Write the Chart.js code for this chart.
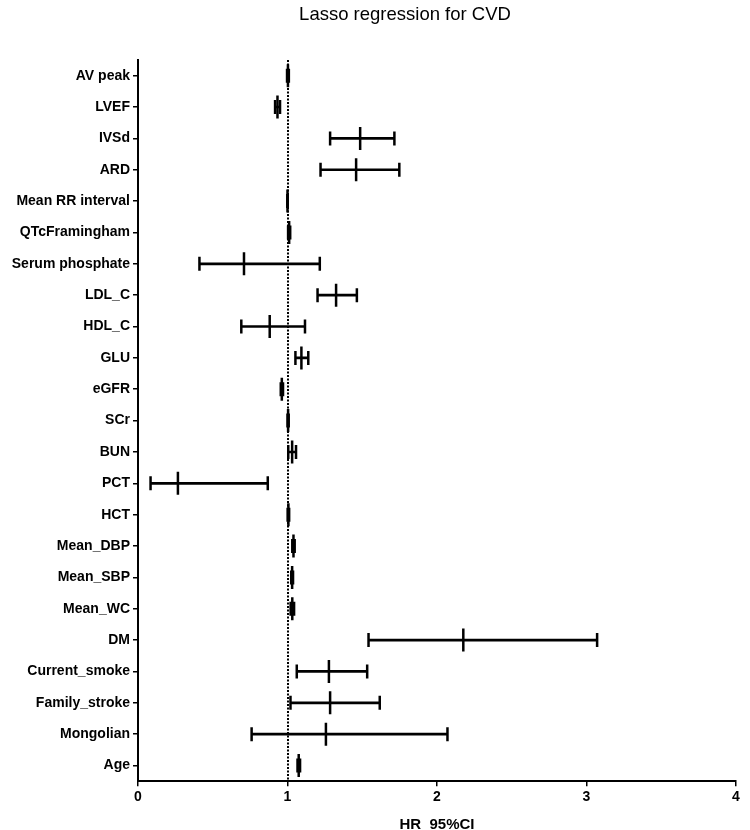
<!DOCTYPE html>
<html>
<head>
<meta charset="utf-8">
<script src="https://cdn.jsdelivr.net/npm/chart.js@4"></script>
<style>
  html, body { margin: 0; padding: 0; background: #fff; overflow: hidden; }
  canvas { display: block; }
</style>
</head>
<body>
<canvas id="chart" width="750" height="830"></canvas>
<script>
// variables, top to bottom as in the plot
const categories = ['AV peak', 'LVEF', 'IVSd', 'ARD', 'Mean RR interval', 'QTcFramingham',
  'Serum phosphate', 'LDL_C', 'HDL_C', 'GLU', 'eGFR', 'SCr', 'BUN', 'PCT', 'HCT',
  'Mean_DBP', 'Mean_SBP', 'Mean_WC', 'DM', 'Current_smoke', 'Family_stroke', 'Mongolian', 'Age'];

// hazard ratio and 95% CI
const hr    = [1.003, 0.933, 1.486, 1.459, 1.000, 1.011, 0.709, 1.325, 0.881, 1.093, 0.962, 1.004,
  1.031, 0.267, 1.006, 1.040, 1.031, 1.032, 2.176, 1.277, 1.285, 1.257, 1.075];
const ciLow = [0.997, 0.917, 1.285, 1.221, 0.999, 1.004, 0.411, 1.201, 0.691, 1.053, 0.955, 1.000,
  1.005, 0.084, 1.001, 1.032, 1.025, 1.021, 1.542, 1.062, 1.020, 0.760, 1.067];
const ciHigh = [1.009, 0.950, 1.715, 1.748, 1.001, 1.018, 1.216, 1.464, 1.117, 1.139, 0.970, 1.008,
  1.057, 0.868, 1.011, 1.048, 1.037, 1.044, 3.071, 1.533, 1.617, 2.070, 1.084];

const xTicks = [0, 1, 2, 3, 4];
const refValue = 1;
const chartTitle = 'Lasso regression for CVD';
const xTitle = 'HR  95%CI';

const pts = (vals) => vals.map((v, i) => ({ x: v, y: categories[i] }));

// dotted line at HR = 1 and the title on top
const refLine = {
  id: 'refLine',
  beforeDatasetsDraw(chart) {
    const { ctx, chartArea, scales } = chart;
    const px = Math.round(scales.x.getPixelForValue(refValue));
    ctx.save();
    ctx.strokeStyle = '#000';
    ctx.lineWidth = 2;
    ctx.setLineDash([2, 1.5]);
    ctx.beginPath();
    ctx.moveTo(px, chartArea.top);
    ctx.lineTo(px, chartArea.bottom);
    ctx.stroke();
    ctx.restore();
  },
  afterDraw(chart) {
    const ctx = chart.ctx;
    ctx.save();
    ctx.fillStyle = '#000';
    ctx.font = '18.5px "Liberation Sans", Arial, sans-serif';
    ctx.textAlign = 'center';
    ctx.textBaseline = 'middle';
    ctx.fillText(chartTitle, 405, 15);
    ctx.restore();
  }
};

const tickFont = { family: '"Liberation Sans", Arial, sans-serif', size: 14, weight: 'bold' };

new Chart(document.getElementById('chart'), {
  type: 'bar',
  data: {
    labels: categories,
    datasets: [
      {
        // CI whisker
        type: 'bar',
        indexAxis: 'y',
        data: ciLow.map((lo, i) => [lo, ciHigh[i]]),
        backgroundColor: '#000',
        barThickness: 2,
        order: 3
      },
      {
        type: 'scatter',
        data: pts(ciLow),
        pointStyle: 'line',
        rotation: 90,
        radius: 7,
        borderWidth: 2.5,
        borderColor: '#000',
        order: 2
      },
      {
        type: 'scatter',
        data: pts(ciHigh),
        pointStyle: 'line',
        rotation: 90,
        radius: 7,
        borderWidth: 2.5,
        borderColor: '#000',
        order: 2
      },
      {
        type: 'scatter',
        data: pts(hr),
        pointStyle: 'line',
        rotation: 90,
        radius: 11.5,
        borderWidth: 2.5,
        borderColor: '#000',
        order: 1
      }
    ]
  },
  options: {
    responsive: false,
    animation: false,
    layout: { padding: { top: 60, right: 8, left: 0, bottom: -4 } },
    plugins: {
      legend: { display: false },
      tooltip: { enabled: false },
      title: { display: false }
    },
    scales: {
      x: {
        type: 'linear',
        min: 0,
        max: 4,
        offset: false,
        afterBuildTicks: (scale) => { scale.ticks = xTicks.map(v => ({ value: v })); },
        afterFit: (scale) => { scale.paddingRight = 0; scale.paddingLeft = 0; },
        grid: { offset: false, drawOnChartArea: false, drawTicks: true, tickLength: 5, color: '#000', lineWidth: 1.5 },
        border: { display: true, color: '#000', width: 2 },
        ticks: { color: '#000', font: tickFont, padding: 3, maxRotation: 0 },
        title: {
          display: true,
          text: xTitle,
          color: '#000',
          font: { family: '"Liberation Sans", Arial, sans-serif', size: 15, weight: 'bold' },
          padding: { top: 7, bottom: 0 }
        }
      },
      y: {
        type: 'category',
        labels: categories,
        offset: true,
        afterFit: (scale) => { scale.width = 138; },
        grid: { drawOnChartArea: false, drawTicks: true, tickLength: 5, color: '#000', lineWidth: 1.5, offset: false },
        border: { display: true, color: '#000', width: 2 },
        ticks: { color: '#000', font: tickFont, padding: 3, autoSkip: false }
      }
    }
  },
  plugins: [refLine]
});
</script>
</body>
</html>
